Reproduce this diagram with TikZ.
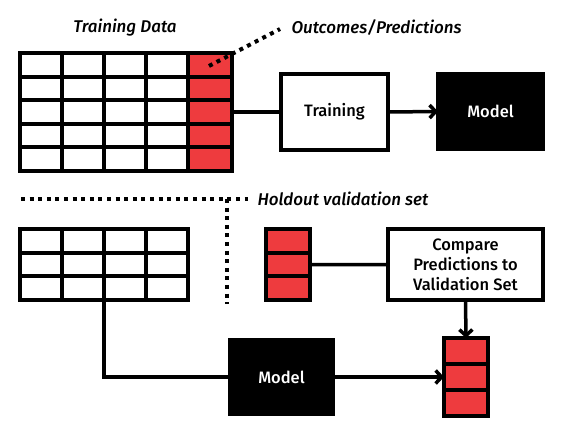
\documentclass[tikz,border=0pt]{standalone}
\usepackage{fontspec}
\setmainfont{Fira Sans}[BoldFont={* Medium}, BoldItalicFont={* Medium Italic}]
\usetikzlibrary{arrows.meta}
\definecolor{vermelho}{HTML}{EE3B3E}
\tikzset{
  celula/.style={draw, line width=4pt, minimum width=42pt, minimum height=23.6pt, inner sep=0pt, outer sep=0pt, fill=white},
  celulavermelha/.style={celula, fill=vermelho, minimum width=44pt},
  caixa/.style={draw, line width=3.5pt, inner sep=0pt, outer sep=0pt, align=center, font=\fontsize{16.5}{20}\selectfont\bfseries},
  caixapreta/.style={caixa, fill=black, text=white},
  conector/.style={line width=3.5pt},
  seta/.style={conector, -{Straight Barb[length=6pt,width=13pt]}},
  pontilhado/.style={line width=4pt, dash pattern=on 4pt off 4.6pt},
  rotulo/.style={font=\fontsize{17}{20}\selectfont\bfseries\itshape}
}
\begin{document}
\begin{tikzpicture}[x=1pt,y=-1pt] %Inicio do desenho, unidades em pontos
\useasboundingbox (0,0) rectangle (563,443);
	%Dados de treino
\foreach \i in {1,...,5}{
  \foreach \j in {1,...,4}
    \node[celula] (t-\i-\j) at ({20+42*(\j-0.5)},{53+23.6*(\i-0.5)}) {};
  \node[celulavermelha] (t-\i-5) at (209.5,{53+23.6*(\i-0.5)}) {};
}
\node[rotulo] (titulo) at (125,28) {Training Data};
\node[rotulo, anchor=west] (saidas) at (288,28) {Outcomes/Predictions};
\coordinate (pontaA) at (209,66);
\coordinate (pontaB) at (280,29);
\draw[pontilhado] (pontaA) -- (pontaB);
	%Treino e modelo
\node[caixa, minimum width=107pt, minimum height=76pt] (treino) at (334.5,112) {Training};
\node[caixapreta, minimum width=105pt, minimum height=75pt] (modelo) at (490.5,111.5) {Model};
\draw[conector] (t-3-5.east) -- (treino.west);
\draw[seta] (treino.east) -- (modelo.west);
	%Conjunto de validacao
\coordinate (divA) at (21,199);
\coordinate (divB) at (248,199);
\coordinate (divC) at (227,199);
\coordinate (divD) at (227,304);
\draw[pontilhado] (divA) -- (divB);
\draw[pontilhado] (divC) -- (divD);
\node[rotulo, anchor=west] (holdout) at (254,199) {Holdout validation set};
\foreach \i in {1,2,3}{
  \foreach \j in {1,...,4}
    \node[celula] (v-\i-\j) at ({20+42*(\j-0.5)},{229.3+23.6*(\i-0.5)}) {};
  \node[celulavermelha] (m-\i) at (288,{229.3+23.6*(\i-0.5)}) {};
  \node[celulavermelha, minimum height=26pt] (r-\i) at (466,{338+26*(\i-0.5)}) {};
}
\node[caixa, minimum width=155pt, minimum height=71pt] (compara) at (465.5,264.5) {Compare\\Predictions to\\Validation Set};
\node[caixapreta, minimum width=103pt, minimum height=74pt] (modelo2) at (281.5,377) {Model};
\draw[conector] (v-3-2.south east) |- (modelo2.west);
\draw[seta] (modelo2.east) -- (r-2.west);
\draw[conector] (m-2.east) -- (compara.west);
\draw[seta] (compara.south) -- (r-1.north);
\end{tikzpicture}
\end{document}
